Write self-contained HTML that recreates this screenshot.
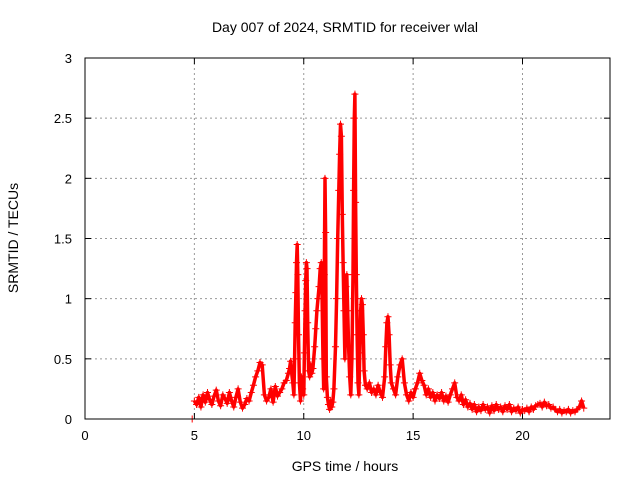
<!DOCTYPE html>
<html><head><meta charset="utf-8"><style>
body{margin:0;background:#fff;}
svg{display:block;font-family:"Liberation Sans",sans-serif;}
</style></head><body>
<svg id="chart" width="640" height="480" viewBox="0 0 640 480">
<text x="345" y="32" font-size="14" text-anchor="middle">Day 007 of 2024, SRMTID for receiver wlal</text>
<text x="345" y="471" font-size="14" text-anchor="middle">GPS time / hours</text>
<text transform="translate(18,238) rotate(-90)" font-size="14" text-anchor="middle">SRMTID / TECUs</text>
<g id="grid"></g>
<g id="ticks"></g>
<g id="series"></g>
<rect x="85" y="58" width="525" height="361" fill="none" stroke="#000" stroke-width="1"/>
</svg>
<script>
const xTicks=[0,5,10,15,20];
const yTicks=[0,0.5,1,1.5,2,2.5,3];
const yTickLabels=["0","0.5","1","1.5","2","2.5","3"];
const times=[4.9,5.0,5.1,5.2,5.3,5.4,5.5,5.6,5.7,5.8,5.9,6.0,6.1,6.2,6.3,6.4,6.5,6.6,6.7,6.8,6.9,7.0,7.1,7.2,7.3,7.4,7.5,7.6,7.7,7.8,7.9,8.0,8.1,8.2,8.3,8.4,8.5,8.6,8.7,8.8,8.9,9.0,9.1,9.2,9.3,
9.35,9.40,9.45,9.50,9.55,9.58,9.61,9.64,9.67,9.70,9.73,9.76,9.80,9.85,9.90,9.95,10.00,10.03,10.06,10.09,10.12,10.15,10.18,10.22,10.27,10.32,10.37,10.42,10.50,10.55,10.60,10.65,10.70,10.75,10.80,10.84,10.88,10.91,10.94,10.97,11.00,11.03,11.08,11.13,11.18,11.23,11.28,11.33,11.38,11.45,11.50,11.55,11.60,11.64,11.68,11.72,11.76,11.80,11.84,11.88,11.93,11.97,12.01,12.05,12.10,12.15,12.20,12.25,12.28,12.31,12.34,12.37,12.40,12.44,12.48,12.52,12.56,12.60,12.64,12.68,12.72,12.76,12.82,12.90,13.00,13.10,
13.2,13.3,13.4,13.5,13.6,13.7,13.75,13.8,13.85,13.9,13.95,14.0,14.1,14.2,14.3,14.4,14.5,14.6,14.7,14.8,14.9,15.0,15.1,15.2,15.3,15.4,15.5,15.6,15.7,15.8,15.9,16.0,16.1,16.2,16.3,16.4,16.5,16.6,16.7,16.8,16.9,17.0,17.1,17.2,17.3,17.4,17.5,17.6,17.7,17.8,17.9,18.0,18.1,18.2,18.3,18.4,18.5,18.6,18.7,18.8,18.9,19.0,19.1,19.2,19.3,19.4,19.5,19.6,19.7,19.8,19.9,20.0,20.1,20.2,20.3,20.4,20.5,20.6,20.7,20.8,20.9,21.0,21.1,21.2,21.3,21.4,21.5,21.6,21.7,21.8,21.9,22.0,22.1,22.2,22.3,22.4,22.5,22.6,22.7,22.8];
const values=[0.00,0.15,0.12,0.18,0.10,0.20,0.14,0.22,0.16,0.12,0.19,0.24,0.15,0.11,0.20,0.17,0.13,0.22,0.15,0.10,0.18,0.25,0.14,0.09,0.12,0.17,0.15,0.22,0.28,0.35,0.40,0.47,0.45,0.20,0.15,0.18,0.25,0.14,0.27,0.19,0.22,0.25,0.30,0.32,0.38,
0.42,0.48,0.38,0.30,0.20,0.50,0.80,1.05,1.30,1.45,1.20,0.70,0.30,0.15,0.35,0.25,0.20,0.55,0.90,1.15,1.30,1.25,0.80,0.40,0.35,0.45,0.38,0.42,0.60,0.75,0.90,1.00,1.10,1.25,1.30,1.00,0.50,0.25,1.20,2.00,1.55,0.35,0.18,0.12,0.08,0.15,0.10,0.14,0.25,0.60,1.00,1.50,1.90,2.20,2.45,2.35,1.70,1.30,0.90,0.50,1.10,1.20,0.90,0.60,0.35,0.20,0.50,1.20,1.90,2.50,2.70,1.80,1.20,0.70,0.30,0.20,0.55,0.90,1.00,0.95,0.70,0.40,0.28,0.25,0.30,0.22,
0.25,0.20,0.28,0.22,0.18,0.35,0.60,0.80,0.85,0.70,0.45,0.30,0.25,0.20,0.35,0.45,0.50,0.30,0.20,0.15,0.22,0.18,0.25,0.30,0.38,0.32,0.28,0.20,0.25,0.18,0.22,0.15,0.20,0.17,0.22,0.15,0.19,0.14,0.20,0.25,0.30,0.18,0.15,0.20,0.12,0.16,0.10,0.13,0.08,0.12,0.06,0.10,0.07,0.12,0.08,0.10,0.05,0.11,0.07,0.12,0.08,0.10,0.06,0.11,0.08,0.12,0.06,0.09,0.07,0.10,0.05,0.08,0.07,0.09,0.06,0.10,0.08,0.11,0.12,0.13,0.10,0.14,0.11,0.12,0.09,0.10,0.08,0.06,0.08,0.05,0.07,0.06,0.08,0.05,0.07,0.06,0.08,0.10,0.15,0.09];
const NS="http://www.w3.org/2000/svg";
const X0=85,X1=610,Y0=419,Y1=58;
function xs(t){return X0+(t/24)*(X1-X0);}
function ys(v){return Y0-(v/3)*(Y0-Y1);}
function mk(tag,attrs,parent){const e=document.createElementNS(NS,tag);for(const k in attrs)e.setAttribute(k,attrs[k]);parent.appendChild(e);return e;}
const grid=document.getElementById('grid'),ticks=document.getElementById('ticks'),series=document.getElementById('series');
xTicks.forEach(t=>{const x=xs(t);
 if(t>0){const g=mk('line',{x1:x,x2:x,y1:Y1,y2:Y0,stroke:'#999','stroke-dasharray':'2,3'},grid);
 
 }
 mk('line',{x1:x,x2:x,y1:Y0,y2:Y0-6,stroke:'#000'},ticks);
 mk('line',{x1:x,x2:x,y1:Y1,y2:Y1+6,stroke:'#000'},ticks);
 const l=mk('text',{x:x,y:Y0+21,'font-size':13,'text-anchor':'middle'},ticks);l.textContent=t;
 
 
});
yTicks.forEach((v,i)=>{const y=ys(v);
 if(v>0&&v<3){const g=mk('line',{x1:X0,x2:X1,y1:y,y2:y,stroke:'#999','stroke-dasharray':'2,3'},grid);
 
 }
 mk('line',{x1:X0,x2:X0+6,y1:y,y2:y,stroke:'#000'},ticks);
 mk('line',{x1:X1,x2:X1-6,y1:y,y2:y,stroke:'#000'},ticks);
 const l=mk('text',{x:X0-13,y:y+5,'font-size':13,'text-anchor':'end'},ticks);l.textContent=yTickLabels[i];
 
 
});
let pts=times.slice(1).map((t,i)=>xs(t).toFixed(1)+','+ys(values[i+1]).toFixed(1)).join(' ');
const pl=mk('polyline',{points:pts,fill:'none',stroke:'#f00','stroke-width':3.5,'stroke-linejoin':'round'},series);


times.forEach((t,i)=>{const x=xs(t),y=ys(values[i]);
 const p=mk('path',{d:`M${x-3.5},${y}h7M${x},${y-3.5}v7`,stroke:'#f00','stroke-width':1},series);
 
 
});
</script>
</body></html>
